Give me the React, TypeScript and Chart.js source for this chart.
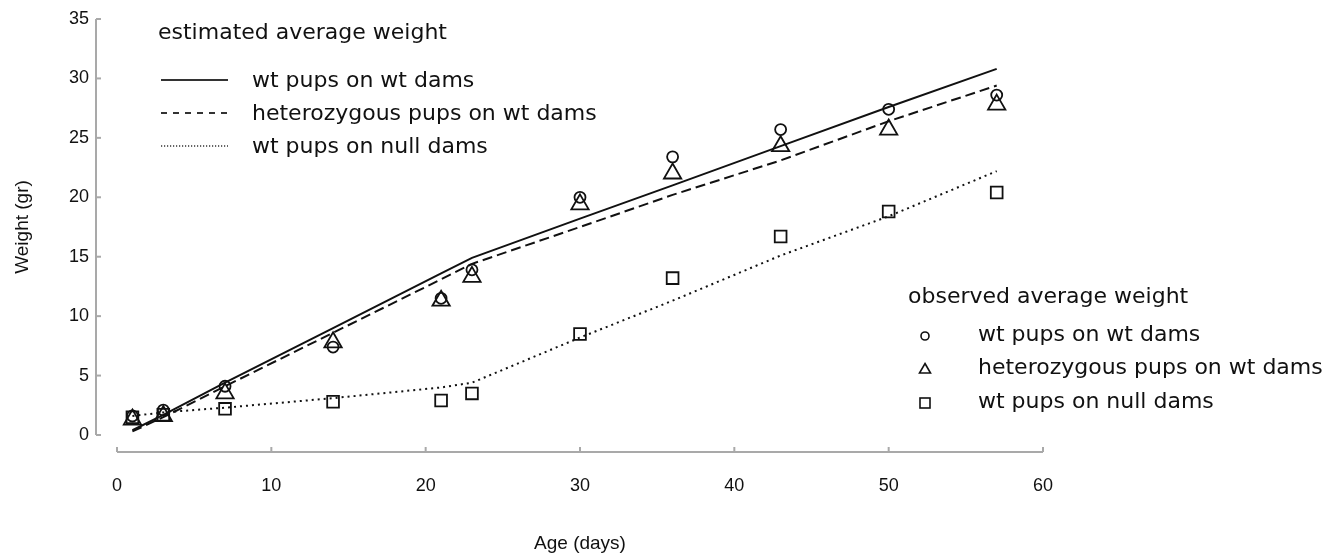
import React, { useEffect, useRef } from "react";
import { Chart, registerables } from "chart.js";

Chart.register(...registerables);

// ---- data ----
const ages = [1, 3, 7, 14, 21, 23, 30, 36, 43, 50, 57];

// estimated average weight (lines)
const estWtOnWt = [0.4, 1.7, 4.4, 9.0, 13.6, 14.9, 18.2, 21.0, 24.3, 27.6, 30.8];
const estHetOnWt = [0.3, 1.5, 4.1, 8.6, 13.1, 14.4, 17.5, 20.2, 23.1, 26.4, 29.4];
const estWtOnNull = [1.6, 1.9, 2.3, 3.1, 4.0, 4.4, 8.2, 11.3, 15.1, 18.4, 22.2];

// observed average weight (markers)
const obsWtOnWt = [1.6, 2.1, 4.1, 7.4, 11.5, 13.9, 20.0, 23.4, 25.7, 27.4, 28.6];
const obsHetOnWt = [1.3, 1.6, 3.5, 7.8, 11.3, 13.3, 19.4, 22.0, 24.3, 25.7, 27.8];
const obsWtOnNull = [1.5, 1.7, 2.2, 2.8, 2.9, 3.5, 8.5, 13.2, 16.7, 18.8, 20.4];

const seriesNames = [
  "wt pups on wt dams",
  "heterozygous pups on wt dams",
  "wt pups on null dams",
];
const estTitle = "estimated average weight";
const obsTitle = "observed average weight";

const xTicks = [0, 10, 20, 30, 40, 50, 60];
const yTicks = [0, 5, 10, 15, 20, 25, 30, 35];

const W = 1342;
const H = 557;
const INK = "#111111";
const AXIS = "#a9a9a9";
const LEGEND_FONT = "22px 'DejaVu Sans', sans-serif";
const AXIS_FONT = "'Liberation Sans', Arial, sans-serif";

const pts = (ys: number[]) => ages.map((a, i) => ({ x: a, y: ys[i] }));

const overlayPlugin = {
  id: "overlay",
  afterDraw(chart: any) {
    const ctx: CanvasRenderingContext2D = chart.ctx;
    const xs = chart.scales.x;
    const ys = chart.scales.y;
    const ca = chart.chartArea;
    ctx.save();

    // offset axes
    ctx.strokeStyle = AXIS;
    ctx.lineWidth = 2;
    const ax = ca.left - 21;
    ctx.beginPath();
    ctx.moveTo(ax, ys.getPixelForValue(yTicks[yTicks.length - 1]));
    ctx.lineTo(ax, ys.getPixelForValue(yTicks[0]));
    ctx.stroke();
    yTicks.forEach((v) => {
      const py = ys.getPixelForValue(v);
      ctx.beginPath();
      ctx.moveTo(ax, py);
      ctx.lineTo(ax + 5, py);
      ctx.stroke();
    });
    const ay = ca.bottom + 17;
    ctx.beginPath();
    ctx.moveTo(xs.getPixelForValue(xTicks[0]), ay);
    ctx.lineTo(xs.getPixelForValue(xTicks[xTicks.length - 1]), ay);
    ctx.stroke();
    xTicks.forEach((v) => {
      const px = xs.getPixelForValue(v);
      ctx.beginPath();
      ctx.moveTo(px, ay);
      ctx.lineTo(px, ay - 5);
      ctx.stroke();
    });

    // estimated legend
    ctx.fillStyle = INK;
    ctx.font = LEGEND_FONT;
    ctx.textBaseline = "middle";
    ctx.textAlign = "left";
    ctx.fillText(estTitle, 158, 33);
    const rowsY = [80, 113, 146];
    const dashes = [[], [6, 6], [1.2, 1.8]];
    const widths = [2, 2, 1.3];
    rowsY.forEach((ry, i) => {
      ctx.strokeStyle = "#333";
      ctx.lineWidth = widths[i];
      ctx.setLineDash(dashes[i]);
      ctx.beginPath();
      ctx.moveTo(161, ry);
      ctx.lineTo(228, ry);
      ctx.stroke();
      ctx.setLineDash([]);
      ctx.fillText(seriesNames[i], 252, ry + 1);
    });

    // observed legend
    ctx.fillText(obsTitle, 908, 297);
    const oy = [336, 369, 403];
    const mx = 925;
    ctx.strokeStyle = INK;
    ctx.lineWidth = 1.6;
    ctx.beginPath();
    ctx.arc(mx, oy[0], 4, 0, Math.PI * 2);
    ctx.stroke();
    ctx.beginPath();
    ctx.moveTo(mx, oy[1] - 5.5);
    ctx.lineTo(mx + 5.5, oy[1] + 4);
    ctx.lineTo(mx - 5.5, oy[1] + 4);
    ctx.closePath();
    ctx.stroke();
    ctx.strokeRect(mx - 5, oy[2] - 5, 10, 10);
    oy.forEach((ry, i) => ctx.fillText(seriesNames[i], 978, ry - 1));

    ctx.restore();
  },
};

export default function App() {
  const ref = useRef<HTMLCanvasElement | null>(null);

  useEffect(() => {
    if (!ref.current) return;
    const lineBase = {
      showLine: true,
      pointRadius: 0,
      pointHoverRadius: 0,
      borderColor: INK,
      borderWidth: 2,
      fill: false,
      tension: 0,
    };
    const markBase = {
      showLine: false,
      borderColor: INK,
      pointBorderColor: INK,
      pointBackgroundColor: "rgba(0,0,0,0)",
      backgroundColor: "rgba(0,0,0,0)",
      pointBorderWidth: 1.8,
    };
    const chart = new Chart(ref.current, {
      type: "scatter",
      data: {
        datasets: [
          { ...lineBase, label: "est " + seriesNames[0], data: pts(estWtOnWt) },
          { ...lineBase, label: "est " + seriesNames[1], data: pts(estHetOnWt), borderDash: [10, 5] },
          { ...lineBase, label: "est " + seriesNames[2], data: pts(estWtOnNull), borderDash: [2, 4] },
          { ...markBase, label: "obs " + seriesNames[0], data: pts(obsWtOnWt), pointStyle: "circle", pointRadius: 5.5 },
          { ...markBase, label: "obs " + seriesNames[1], data: pts(obsHetOnWt), pointStyle: "triangle", pointRadius: 10 },
          { ...markBase, label: "obs " + seriesNames[2], data: pts(obsWtOnNull), pointStyle: "rect", pointRadius: 8.3 },
        ] as any,
      },
      options: {
        animation: false,
        responsive: false,
        layout: { autoPadding: false, padding: { left: 7, right: W - 1043, top: 19, bottom: 0 } },
        plugins: {
          legend: { display: false },
          tooltip: { enabled: false },
        },
        scales: {
          x: {
            type: "linear",
            min: 0,
            max: 60,
            grid: { display: false, drawTicks: false },
            border: { display: false },
            afterFit: (s: any) => {
              s.height = H - 435;
              s.paddingLeft = 0;
              s.paddingRight = 0;
            },
            afterBuildTicks: (s: any) => {
              s.ticks = xTicks.map((v) => ({ value: v }));
            },
            ticks: {
              padding: 40,
              color: INK,
              font: { family: AXIS_FONT, size: 18 },
            },
            title: {
              display: true,
              text: "Age (days)",
              color: INK,
              padding: { top: 0, bottom: 2 },
              font: { family: AXIS_FONT, size: 19 },
            },
          },
          y: {
            type: "linear",
            min: 0,
            max: 35,
            grid: { display: false, drawTicks: false },
            border: { display: false },
            afterFit: (s: any) => {
              s.width = 117 - 7;
              s.paddingTop = 0;
              s.paddingBottom = 0;
            },
            afterBuildTicks: (s: any) => {
              s.ticks = yTicks.map((v) => ({ value: v }));
            },
            ticks: {
              padding: 28,
              color: INK,
              font: { family: AXIS_FONT, size: 18 },
            },
            title: {
              display: true,
              text: "Weight (gr)",
              color: INK,
              padding: { top: 4, bottom: 4 },
              font: { family: AXIS_FONT, size: 19 },
            },
          },
        },
      } as any,
      plugins: [overlayPlugin],
    });
    return () => chart.destroy();
  }, []);

  return (
    <div style={{ position: "fixed", left: 0, top: 0, width: W, height: H, background: "#fff" }}>
      <canvas ref={ref} width={W} height={H} style={{ display: "block", width: W, height: H }} />
    </div>
  );
}
